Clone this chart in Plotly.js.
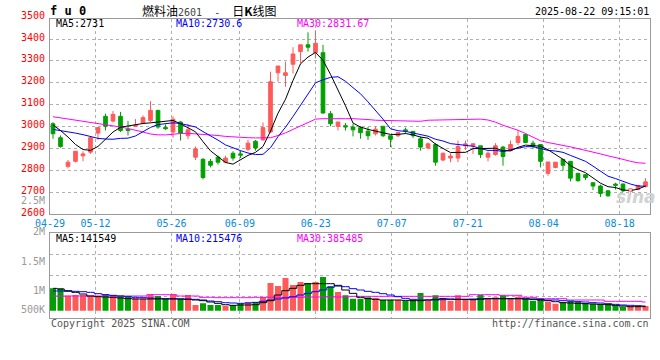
<!DOCTYPE html>
<html><head><meta charset="utf-8">
<script src="https://cdn.plot.ly/plotly-3.0.1.min.js"></script>
<style>html,body{margin:0;padding:0;background:#fff;}#chart{width:660px;height:360px;}</style>
</head><body><div id="chart"></div>
<script>
// ---------------- data ----------------
const dates = ['04-29','04-30','05-06','05-07','05-08','05-09','05-12','05-13','05-14','05-15','05-16','05-19','05-20','05-21','05-22','05-23','05-26','05-27','05-28','05-29','05-30','06-03','06-04','06-05','06-06','06-09','06-10','06-11','06-12','06-13','06-16','06-17','06-18','06-19','06-20','06-23','06-24','06-25','06-26','06-27','06-30','07-01','07-02','07-03','07-04','07-07','07-08','07-09','07-10','07-11','07-14','07-15','07-16','07-17','07-18','07-21','07-22','07-23','07-24','07-25','07-28','07-29','07-30','07-31','08-01','08-04','08-05','08-06','08-07','08-08','08-11','08-12','08-13','08-14','08-15','08-18','08-19','08-20','08-21','08-22'];
const openP = [3013,2949,2818,2841,2866,2883,2970,3047,3025,3047, 2988,3001,3016,3028,3074,2996,2975,3021,2958,2860, 2850,2841,2860,2837,2878,2875,2896,2933,2939,2975, 3246,3234,3285,3343,3374,3338,3338,3059,3001,3004, 2998,2995,2979,2967,3001,2958,2958,2985,2978,2944, 2902,2918,2847,2856,2856,2912,2912,2912,2860,2872, 2906,2890,2927,2964,2924,2918,2786,2813,2850,2841, 2786,2780,2743,2728,2706,2737,2737,2703,2712,2726];
const highP = [3020,2959,2847,2887,2887,2955,2998,3059,3071,3067, 3025,3034,3051,3116,3077,3010,3047,3025,3013,2909, 2856,2852,2867,2867,2887,2890,2939,2939,3019,3251, 3277,3297,3363,3374,3431,3440,3374,3071,3021,3016, 3013,3001,2998,3001,3001,2958,2973,2995,2978,2955, 2927,2924,2881,2878,2936,2936,2924,2912,2887,2924, 2912,2936,2985,2967,2936,2918,2838,2837,2850,2841, 2786,2783,2746,2734,2709,2743,2740,2715,2731,2764];
const lowP = [2944,2903,2809,2836,2841,2875,2939,2982,3019,2975, 2959,2998,3013,3021,2990,2985,2949,2936,2942,2847, 2758,2813,2826,2832,2844,2856,2887,2890,2936,2970, 3205,3182,3243,3289,3343,3312,3059,3001,2982,2982, 2955,2944,2939,2959,2952,2906,2952,2967,2948,2890, 2896,2821,2841,2837,2837,2893,2875,2856,2841,2867, 2821,2887,2915,2924,2898,2813,2775,2809,2798,2749, 2749,2755,2709,2678,2680,2712,2700,2698,2709,2721];
const closeP = [2967,2909,2837,2887,2875,2949,2995,3001,3056,2982, 2982,3007,3041,3074,2998,2990,3034,2970,2985,2898, 2767,2823,2837,2856,2856,2869,2924,2902,2995,3205, 3277,3246,3332,3374,3363,3381,3062,3013,3021,2998, 2985,2972,2958,2988,2958,2942,2973,2979,2958,2906, 2921,2837,2878,2865,2909,2921,2921,2872,2878,2912, 2863,2918,2955,2927,2909,2841,2838,2837,2823,2764, 2752,2767,2728,2694,2683,2731,2706,2715,2731,2747];
const ma5 = [3007,2982,2952,2918,2895,2891,2909,2941,2975,2997, 3003,3006,3014,3017,3020,3022,3028,3013,2996,2976, 2931,2889,2862,2836,2828,2848,2868,2882,2909,2979, 3061,3125,3211,3287,3318,3339,3303,3239,3168,3095, 3016,2998,2987,2980,2972,2964,2964,2968,2962,2952, 2947,2920,2900,2881,2882,2882,2899,2898,2900,2901, 2889,2889,2905,2915,2914,2910,2894,2870,2850,2821, 2803,2789,2767,2741,2725,2721,2710,2707,2714,2728];
const ma10 = [2987,2982,2976,2970,2963,2955,2946,2943,2942,2946, 2947,2957,2978,2996,3009,3013,3017,3014,3006,2998, 2977,2958,2938,2916,2902,2890,2879,2872,2873,2903, 2954,2997,3046,3098,3149,3200,3214,3225,3228,3207, 3178,3150,3113,3074,3034,2990,2981,2978,2971,2962, 2956,2942,2934,2922,2917,2915,2910,2899,2891,2891, 2886,2894,2901,2908,2908,2900,2891,2888,2882,2868, 2856,2841,2819,2795,2773,2762,2749,2737,2728,2727];
const ma30 = [3045,3040,3034,3029,3024,3019,3014,3009,3004,2998, 2991,2984,2975,2966,2962,2962,2966,2968,2969,2967, 2964,2961,2959,2955,2952,2950,2949,2948,2947,2949, 2959,2971,2987,3003,3020,3034,3036,3037,3036,3036, 3036,3035,3032,3029,3028,3026,3024,3025,3024,3024, 3029,3030,3031,3031,3033,3035,3035,3034,3030,3020, 3006,2995,2983,2968,2953,2935,2927,2921,2915,2907, 2899,2892,2885,2875,2866,2859,2850,2841,2834,2832];
const volume = [984000,984000,661000,691000,691000,661000,632000,720000,691000,661000, 617000,544000,529000,720000,647000,529000,720000,529000,691000,251000, 324000,251000,251000,221000,236000,324000,383000,383000,603000,1219000, 1087000,1439000,1131000,1263000,1204000,1263000,1483000,1087000,823000,676000, 529000,529000,588000,559000,471000,471000,471000,441000,471000,779000, 441000,676000,544000,441000,676000,500000,500000,691000,529000,588000, 676000,559000,617000,529000,441000,559000,397000,309000,383000,427000, 397000,339000,309000,295000,295000,236000,177000,207000,207000,207000];
const volMa5 = [984000,955000,881000,808000,735000,647000,617000,603000,588000,559000, 529000,515000,515000,515000,515000,515000,515000,515000,500000,471000, 441000,383000,324000,265000,236000,251000,251000,265000,353000,441000, 691000,881000,984000,1116000,1189000,1189000,1189000,1189000,1087000,911000, 764000,588000,529000,500000,471000,471000,471000,456000,441000,441000, 471000,500000,529000,515000,500000,500000,485000,500000,529000,529000, 529000,529000,529000,515000,500000,471000,441000,397000,353000,339000, 324000,309000,295000,280000,265000,236000,207000,177000,177000,177000];
const volMa10 = [867000,867000,852000,852000,837000,808000,749000,705000,676000,647000, 617000,588000,573000,559000,544000,529000,529000,515000,515000,500000, 471000,427000,397000,353000,339000,324000,339000,368000,412000,471000, 515000,559000,617000,691000,764000,837000,911000,1028000,1116000,1057000, 969000,911000,852000,808000,749000,691000,617000,544000,500000,471000, 471000,471000,485000,500000,500000,500000,515000,529000,529000,529000, 529000,529000,529000,529000,515000,500000,471000,471000,441000,427000, 397000,383000,353000,339000,309000,280000,251000,236000,221000,207000];
const volMa30 = [647000,647000,647000,647000,647000,647000,647000,647000,647000,647000, 647000,647000,647000,705000,705000,705000,705000,647000,647000,647000, 588000,588000,573000,573000,573000,573000,573000,588000,588000,588000, 588000,588000,588000,588000,603000,603000,603000,603000,603000,603000, 632000,632000,632000,632000,632000,632000,632000,632000,632000,632000, 632000,632000,632000,632000,632000,632000,705000,705000,705000,705000, 676000,676000,676000,588000,588000,529000,529000,529000,529000,471000, 471000,471000,471000,471000,412000,412000,412000,412000,412000,383000];
const tickDates = ['04-29','05-12','05-26','06-09','06-23','07-07','07-21','08-04','08-18'];
const priceTicks = [2600,2700,2800,2900,3000,3100,3200,3300,3400,3500];
const volTickLabels = ['2.5M','2M','1.5M','1M','500K'];
const priceMaText = ['MA5:2731','MA10:2730.6','MA30:2831.67'];
const volMaText = ['MA5:141549','MA10:215476','MA30:385485'];
const symbolText = 'f u 0';
const titleName = '燃料油', titleCode = '2601', titleTail = '日<b>K</b>线图';
const stampText = '2025-08-22 09:15:01';
const copyText = 'Copyright 2025 SINA.COM';
const urlText = 'http://finance.sina.com.cn';

// ---------------- layout helpers ----------------
const H = 360, L = 50, R = 650;
const MONO = 'DejaVu Sans Mono, monospace';
const UP = '#ff5a5a', DOWN = '#00a000';
const pY = p => 1 - p / H;
const pX = p => (p - L) / (R - L);
const n = dates.length;
const xIdx = dates.map((d, i) => i);
const X0 = -0.4, X1 = n - 0.4;
const gridPos = tickDates.map(d => X0 + dates.indexOf(d) * n / (n - 1));
const priceTop = 19, priceBot = 214, volTop = 233.3, volBot = 317.7, volZero = 310.7;
const pxPerPt = 0.2186, lotsPerPx = 44000;
const priceRange = [2600, 2600 + (priceBot - priceTop) / pxPerPt];
const volRange = [-(volBot - volZero) * lotsPerPx, (volZero - volTop) * lotsPerPx];
const volGrid = [1, 2, 3].map(k => volRange[0] + (volRange[1] - volRange[0]) * k / 4);
const priceFrac = v => pY(priceBot) + (v - priceRange[0]) / (priceRange[1] - priceRange[0]) * (pY(priceTop) - pY(priceBot));
const volColors = closeP.map((c, i) => c >= openP[i] ? UP : DOWN);

const traces = [
  {type: 'candlestick', x: xIdx, open: openP, high: highP, low: lowP, close: closeP,
   xaxis: 'x', yaxis: 'y', whiskerwidth: 0, hoverinfo: 'none',
   increasing: {line: {color: UP, width: 1}, fillcolor: UP},
   decreasing: {line: {color: DOWN, width: 1}, fillcolor: DOWN}},
  {type: 'scatter', mode: 'lines', x: xIdx, y: ma30, line: {color: '#ff00ff', width: 1}, xaxis: 'x', yaxis: 'y', hoverinfo: 'none'},
  {type: 'scatter', mode: 'lines', x: xIdx, y: ma10, line: {color: '#0000ff', width: 1}, xaxis: 'x', yaxis: 'y', hoverinfo: 'none'},
  {type: 'scatter', mode: 'lines', x: xIdx, y: ma5, line: {color: '#000000', width: 1}, xaxis: 'x', yaxis: 'y', hoverinfo: 'none'},
  {type: 'bar', x: xIdx, y: volume, width: 0.8, marker: {color: volColors, line: {width: 0}}, xaxis: 'x', yaxis: 'y2', hoverinfo: 'none'},
  {type: 'scatter', mode: 'lines', x: xIdx, y: volMa30, line: {color: '#ff00ff', width: 1, shape: 'hvh'}, xaxis: 'x', yaxis: 'y2', hoverinfo: 'none'},
  {type: 'scatter', mode: 'lines', x: xIdx, y: volMa10, line: {color: '#0000ff', width: 1, shape: 'hvh'}, xaxis: 'x', yaxis: 'y2', hoverinfo: 'none'},
  {type: 'scatter', mode: 'lines', x: xIdx, y: volMa5, line: {color: '#000000', width: 1, shape: 'hvh'}, xaxis: 'x', yaxis: 'y2', hoverinfo: 'none'}
];

const ann = [];
const txt = (text, x, y, xanchor, color, size, extra) => ann.push(Object.assign({
  text: text, xref: 'paper', yref: 'paper', x: pX(x), y: pY(y), xanchor: xanchor, yanchor: 'middle',
  showarrow: false, font: {family: MONO, size: size || 10, color: color || '#000'}, borderpad: 0
}, extra || {}));

priceTicks.forEach(v => ann.push({text: String(v), xref: 'paper', yref: 'paper', x: 0, xshift: -4,
  y: priceFrac(v), yshift: 2, xanchor: 'right', yanchor: 'middle', showarrow: false, borderpad: 0,
  font: {family: MONO, size: 10, color: '#ff0000'}}));
const volLabelY = [200.8, 231, 261, 290, 309.7];
volTickLabels.forEach((t, i) => txt(t, 46, volLabelY[i], 'right', '#999999'));

txt('<b>' + symbolText + '</b>', 48.5, 11, 'left', '#000', 12);
txt(titleName + '<span style="font-family:DejaVu Sans Mono;font-size:10px;color:#444">' + titleCode + '\u00a0\u00a0-\u00a0\u00a0</span>' + titleTail,
    140.5, 10.5, 'left', '#000', 12, {font: {family: 'Noto Sans CJK SC, sans-serif', size: 12, color: '#000'}});
txt(stampText, 650, 11.5, 'right', '#000');
const maColors = ['#000000', '#0000ff', '#ff00ff'];
const maX = [54.5, 175, 295.5];
priceMaText.forEach((t, i) => txt(t, maX[i], 23.7, 'left', maColors[i]));
volMaText.forEach((t, i) => txt(t, maX[i], 238.3, 'left', maColors[i]));
txt(copyText, 50, 323.3, 'left', '#555555');
txt(urlText, 650, 323.3, 'right', '#555555');
txt('<b><i>sina</i></b>', 636, 197, 'center', '#d2d2d2', 17, {font: {family: 'DejaVu Sans, sans-serif', size: 17, color: '#d2d2d2'}});

const gridCommon = {showgrid: true, gridcolor: '#b0b0b0', griddash: 'dot', gridwidth: 1,
  showline: true, linecolor: '#9a9a9a', linewidth: 1, mirror: 'all', zeroline: false, fixedrange: true};

const layout = {
  width: 660, height: 360, margin: {l: 50, r: 10, t: 0, b: 0},
  paper_bgcolor: '#ffffff', plot_bgcolor: '#ffffff', showlegend: false,
  xaxis: Object.assign({}, gridCommon, {anchor: 'y', range: [X0, X1], tickmode: 'array',
    tickvals: gridPos, ticktext: tickDates, ticks: '', rangeslider: {visible: false},
    tickfont: {family: MONO, size: 10, color: '#0a8ad8'}}),
  yaxis: Object.assign({}, gridCommon, {domain: [pY(priceBot), pY(priceTop)], range: priceRange,
    tickmode: 'array', tickvals: priceTicks.slice(1, -1), showticklabels: false, ticks: ''}),
  yaxis2: Object.assign({}, gridCommon, {domain: [pY(volBot), pY(volTop)], range: volRange,
    tickmode: 'array', tickvals: volGrid, showticklabels: false, ticks: ''}),
  annotations: ann
};

Plotly.newPlot('chart', traces, layout, {staticPlot: true, displayModeBar: false});
</script>
</body></html>
